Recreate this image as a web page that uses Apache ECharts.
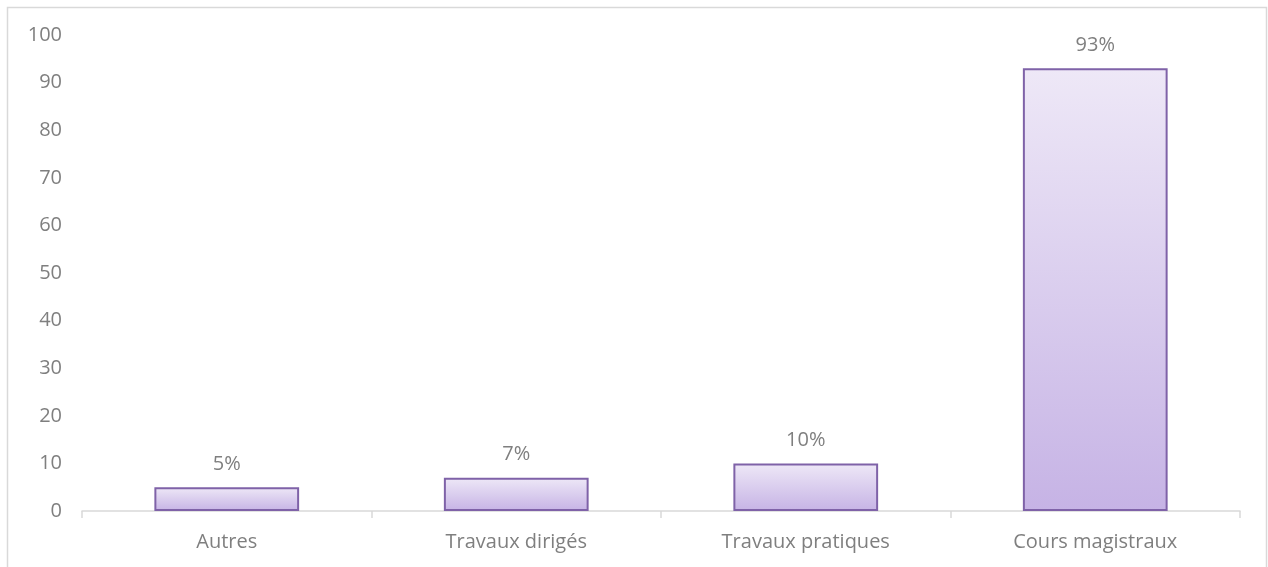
<!DOCTYPE html>
<html>
<head>
<meta charset="utf-8">
<style>
  html, body { margin: 0; padding: 0; background: #ffffff; }
  #chart { width: 1268px; height: 567px; }
</style>
<script src="https://cdn.jsdelivr.net/npm/echarts@6/dist/echarts.min.js"></script>
</head>
<body>
<div id="chart"></div>
<script>
// Répartition par type d'enseignement (%)
const categories = ['Autres', 'Travaux dirigés', 'Travaux pratiques', 'Cours magistraux'];
const values = [5, 7, 10, 93];
const yTicks = [0, 10, 20, 30, 40, 50, 60, 70, 80, 90, 100];

const chart = echarts.init(document.getElementById('chart'));
const textColor = '#7f7f7f';
const fontFamily = '"Open Sans", "Noto Sans", sans-serif';
const fontSize = 20;

chart.setOption({
  animation: false,
  graphic: [{
    type: 'rect',
    shape: { x: 7.5, y: 7.5, width: 1259, height: 600 },
    style: { fill: 'none', stroke: '#d9d9d9', lineWidth: 1.5 },
    silent: true,
    z: -1
  }],
  grid: { left: 82, right: 28, top: 35, bottom: 56 },
  xAxis: {
    type: 'category',
    data: categories,
    axisLine: { lineStyle: { color: '#d9d9d9', width: 1.5 } },
    axisTick: { show: true, length: 7, lineStyle: { color: '#d9d9d9', width: 1.5 } },
    axisLabel: { color: textColor, fontSize: fontSize, fontFamily: fontFamily, margin: 21 }
  },
  yAxis: {
    type: 'value',
    min: yTicks[0],
    max: yTicks[yTicks.length - 1],
    interval: 10,
    axisLine: { show: false },
    axisTick: { show: false },
    splitLine: { show: false },
    axisLabel: { color: textColor, fontSize: fontSize, fontFamily: fontFamily, margin: 20 }
  },
  series: [{
    type: 'bar',
    data: values,
    barWidth: '50%',
    itemStyle: {
      color: new echarts.graphic.LinearGradient(0, 0, 0, 1, [
        { offset: 0, color: '#eee8f7' },
        { offset: 1, color: '#c6b3e5' }
      ]),
      borderColor: '#7f62a8',
      borderWidth: 2
    },
    label: {
      show: true,
      position: 'top',
      distance: 13,
      formatter: p => p.value + '%',
      color: textColor,
      fontSize: fontSize,
      fontFamily: fontFamily
    }
  }]
});
</script>
</body>
</html>
